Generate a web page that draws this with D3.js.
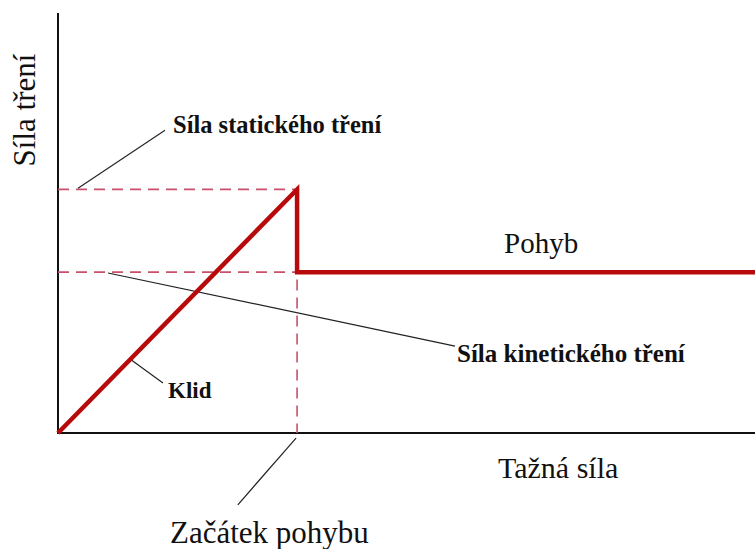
<!DOCTYPE html>
<html><head><meta charset="utf-8">
<script src="https://cdn.jsdelivr.net/npm/d3@7"></script>
<style>body{margin:0;background:#fff}svg{display:block}</style>
</head><body>
<svg id="c" width="755" height="549"></svg>
<script>
// Data (arbitrary units)
const pullForce     = [0, 34.3, 34.3, 100];
const frictionForce = [0, 58.0, 38.3, 38.3];
const staticLevel = 58.0, kineticLevel = 38.3, motionStart = 34.3;
const labels = {
  yAxis: "Síla tření", xAxis: "Tažná síla",
  stat: "Síla statického tření", kin: "Síla kinetického tření",
  rest: "Klid", motion: "Pohyb", start: "Začátek pohybu"
};

const svg = d3.select("#c");
const x = d3.scaleLinear().domain([0,100]).range([58,755]);
const y = d3.scaleLinear().domain([0,100]).range([433,13]);
const serif = "Liberation Serif";

// axes
svg.append("line").attr("x1",x(0)).attr("x2",x(0)).attr("y1",y(100)).attr("y2",y(0))
  .attr("stroke","#111").attr("stroke-width",2);
svg.append("line").attr("x1",x(0)-1).attr("x2",x(100)).attr("y1",y(0)).attr("y2",y(0))
  .attr("stroke","#111").attr("stroke-width",2);

// dashed guides
function dline(x1,y1,x2,y2){
  svg.append("line").attr("x1",x(x1)).attr("y1",y(y1)).attr("x2",x(x2)).attr("y2",y(y2))
    .attr("stroke","#c8506a").attr("stroke-width",1.6).attr("stroke-dasharray","11,7");
}
dline(0,staticLevel,motionStart,staticLevel);
dline(0,kineticLevel,motionStart,kineticLevel);
dline(motionStart,staticLevel,motionStart,0);

// leader lines
const leaders = [
  [[2.87,58.3],[15.35,72.1]],
  [[7.17,38.1],[56.96,20.7]],
  [[10.33,17.6],[15.06,11.9]],
  [[34.15,-1.2],[25.8,-17.1]]
];
leaders.forEach(([a,b])=>svg.append("line")
  .attr("x1",x(a[0])).attr("y1",y(a[1])).attr("x2",x(b[0])).attr("y2",y(b[1]))
  .attr("stroke","#222").attr("stroke-width",1.2));

// friction curve
const pts = pullForce.map((v,i)=>[v,frictionForce[i]]);
svg.append("path").attr("d",d3.line().x(d=>x(d[0])).y(d=>y(d[1]))(pts))
  .attr("fill","none").attr("stroke","#b80a0a").attr("stroke-width",4.5)
  .attr("stroke-linejoin","miter");

// texts
function txt(s,px,py,size,bold){
  return svg.append("text").attr("x",px).attr("y",py).text(s)
    .attr("font-family",serif).attr("font-size",size)
    .attr("font-weight",bold?"bold":"normal").attr("fill","#111");
}
txt(labels.stat,173,133,24.5,true);
txt(labels.kin,457,362,25,true);
txt(labels.rest,168,398,23,true);
txt(labels.motion,504,253,29,false);
txt(labels.xAxis,498,478,30,false);
txt(labels.start,170,543,31,false);
svg.append("text").text(labels.yAxis)
  .attr("transform","translate(35,110) rotate(-90)")
  .attr("text-anchor","middle").attr("font-family",serif).attr("font-size",31)
  .attr("fill","#111");
</script>
</body></html>
